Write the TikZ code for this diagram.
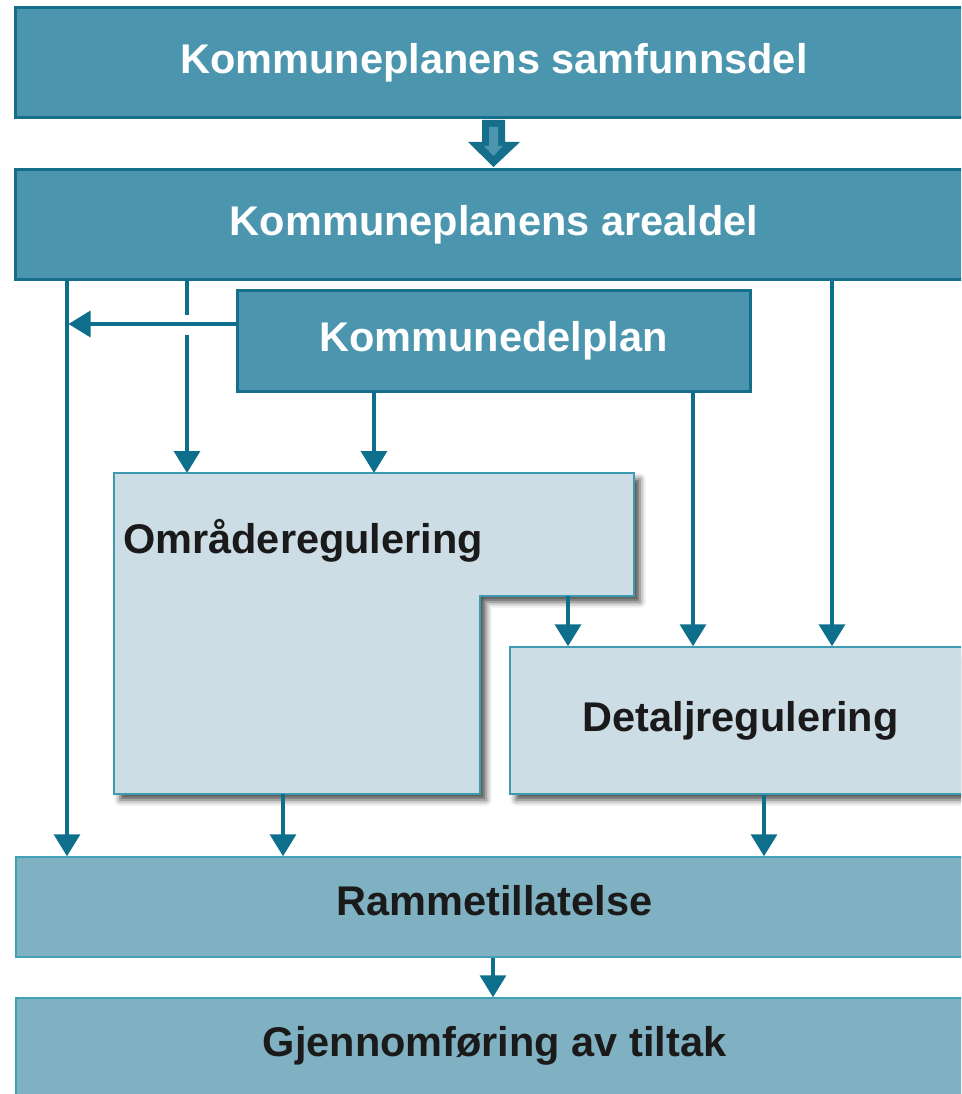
\documentclass[tikz,border=0pt]{standalone}
\usepackage{fontspec}
\setmainfont{Liberation Sans}
\usetikzlibrary{arrows.meta,shadows.blur}
\definecolor{darkfill}{HTML}{4B96AE}
\definecolor{darkline}{HTML}{156F8A}
\definecolor{arrcol}{HTML}{0D6F8B}
\definecolor{lightfill}{HTML}{CDDDE5}
\definecolor{lightline}{HTML}{3E9AB0}
\definecolor{midfill}{HTML}{80B1C2}
\definecolor{midline}{HTML}{44A0B6}
\definecolor{txtdark}{HTML}{1A1A1A}
\begin{document}
\begin{tikzpicture}[x=1pt,y=-1pt,
  bigfont/.style={font=\fontsize{41.5}{48}\selectfont\bfseries},
  darkbox/.style={draw=darkline, line width=3pt, fill=darkfill, text=white, bigfont, inner sep=0pt, text height=30pt, text depth=8pt},
  lightbox/.style={draw=lightline, line width=1.5pt, fill=lightfill, text=txtdark, bigfont, inner sep=0pt, text height=30pt, text depth=8pt},
  midbox/.style={draw=midline, line width=1.5pt, fill=midfill, text=txtdark, bigfont, inner sep=0pt, text height=30pt, text depth=14pt},
  shad/.style={blur shadow={shadow xshift=6pt, shadow yshift=-6pt, shadow blur radius=6pt, shadow opacity=70}},
  ln/.style={draw=arrcol, line width=3.5pt},
  arr/.style={ln, -{Triangle[length=22pt,width=26pt]}}
]
\clip (0,0) rectangle (961,1094);
\useasboundingbox (0,0) rectangle (961,1094);

% main boxes
\node[darkbox, minimum width=980pt, minimum height=110pt, xshift=11pt] (samf) at (494,63) {\hspace*{-22pt}Kommuneplanens samfunnsdel};
\node[darkbox, minimum width=980pt, minimum height=109pt, xshift=11pt] (areal) at (494,224.5) {\hspace*{-22pt}Kommuneplanens arealdel};
\node[darkbox, minimum width=513pt, minimum height=101pt] (kdp) at (493.5,340.5) {Kommunedelplan};

% block arrow between the two top boxes
\fill[darkline] (482,120) -- (505,120) -- (505,142) -- (520,142) -- (493.5,167) -- (468,142) -- (482,142) -- cycle;
\fill[darkfill] (489,127) -- (498,127) -- (498,146) -- (503,146) -- (493.5,156) -- (484,146) -- (489,146) -- cycle;

% Omraderegulering L-shape
\path[shad, fill=lightfill, draw=lightline, line width=1.5pt]
  (114,473) -- (634,473) -- (634,596) -- (480,596) -- (480,794) -- (114,794) -- cycle;
\node[anchor=base west, text=txtdark, bigfont, inner sep=0pt] (omr) at (123,553) {Områderegulering};
\coordinate (omrN) at (0,473);
\coordinate (omrNotch) at (0,596);
\coordinate (omrS) at (0,794);

\node[lightbox, shad, minimum width=461pt, minimum height=147pt] (detalj) at (740.5,720.5) {Detaljregulering};

\node[midbox, minimum width=957pt, minimum height=100pt] (ramme) at (494.5,907) {Rammetillatelse};
\node[midbox, minimum width=957pt, minimum height=100pt] (gjen) at (494.5,1048) {Gjennomføring av tiltak};

% column coordinates
\coordinate (c67) at (67,0);
\coordinate (c187) at (187,0);
\coordinate (c283) at (283,0);
\coordinate (c374) at (374,0);
\coordinate (c568) at (568,0);
\coordinate (c693) at (693,0);
\coordinate (c764) at (764,0);
\coordinate (c832) at (832,0);
\coordinate (c493) at (493,0);
\coordinate (h324) at (0,324);
\coordinate (gapA) at (187,315);
\coordinate (gapB) at (187,335);
\coordinate (hend) at (68.5,324);

% connectors
\draw[arr] (areal.south -| c67) -- (ramme.north -| c67);
\draw[arr] (kdp.west |- h324) -- (hend);
\draw[ln] (areal.south -| c187) -- (gapA);
\draw[arr] (gapB) -- (omrN -| c187);
\draw[arr] (kdp.south -| c374) -- (omrN -| c374);
\draw[arr] (kdp.south -| c693) -- (detalj.north -| c693);
\draw[arr] (areal.south -| c832) -- (detalj.north -| c832);
\draw[arr] (omrNotch -| c568) -- (detalj.north -| c568);
\draw[arr] (omrS -| c283) -- (ramme.north -| c283);
\draw[arr] (detalj.south -| c764) -- (ramme.north -| c764);
\draw[arr] (ramme.south -| c493) -- (gjen.north -| c493);
\end{tikzpicture}
\end{document}
